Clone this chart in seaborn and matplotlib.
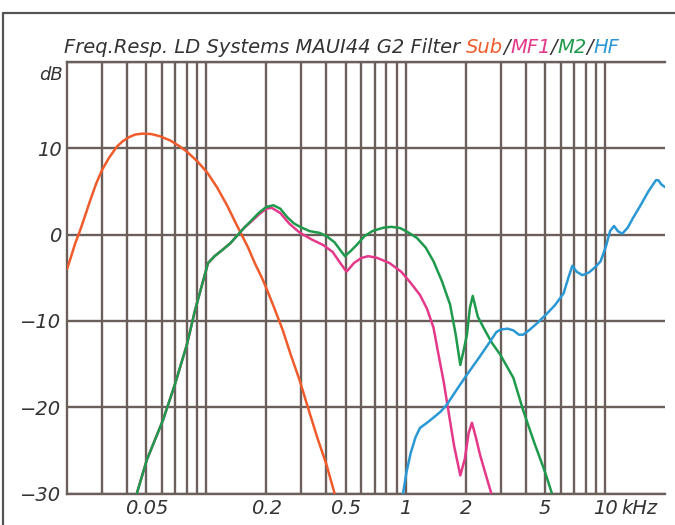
import matplotlib
matplotlib.use("Agg")
import matplotlib.pyplot as plt
from matplotlib.lines import Line2D
from matplotlib.ticker import NullFormatter
import seaborn as sns
import pandas as pd

# ---------------- data (frequency in kHz, level in dB) ----------------
sub_f = [0.020, 0.021, 0.022, 0.0232, 0.0245, 0.026, 0.028, 0.030, 0.0325, 0.0356,
         0.038, 0.041, 0.044, 0.048, 0.053, 0.0585, 0.066, 0.0738, 0.080, 0.090,
         0.101, 0.113, 0.127, 0.140, 0.151, 0.162, 0.175, 0.190, 0.200, 0.220,
         0.242, 0.265, 0.294, 0.323, 0.360, 0.400, 0.440]
sub_db = [-4.0, -2.5, -1.0, 0.4, 2.0, 3.8, 5.9, 7.5, 8.9, 10.2,
          10.8, 11.3, 11.6, 11.7, 11.65, 11.4, 10.9, 10.2, 9.6, 8.5,
          7.2, 5.5, 3.4, 1.4, -0.1, -1.5, -3.3, -5.0, -6.2, -8.6,
          -11.1, -13.9, -16.9, -20.0, -23.5, -26.6, -30.0]

m2_f = [0.0448, 0.0503, 0.0606, 0.0697, 0.080, 0.0877, 0.0952, 0.102, 0.110, 0.120,
        0.132, 0.143, 0.155, 0.166, 0.185, 0.200, 0.217, 0.235, 0.255, 0.275,
        0.295, 0.33, 0.37, 0.402, 0.44, 0.47, 0.496, 0.53, 0.568, 0.62,
        0.68, 0.772, 0.85, 0.94, 1.04, 1.14, 1.26, 1.38, 1.52, 1.67,
        1.78, 1.88, 1.95, 2.03, 2.10, 2.17, 2.30, 2.46, 2.70, 2.98,
        3.47, 3.89, 4.40, 5.00, 5.40]
m2_db = [-30.0, -26.1, -21.5, -17.3, -12.7, -8.8, -5.8, -3.3, -2.5, -1.8,
         -1.0, -0.1, 0.8, 1.5, 2.6, 3.2, 3.4, 3.0, 2.0, 1.3,
         0.9, 0.4, 0.2, -0.2, -0.9, -1.8, -2.5, -1.9, -1.2, -0.2,
         0.4, 0.8, 0.9, 0.75, 0.2, -0.4, -1.5, -3.1, -5.4, -8.1,
         -11.5, -15.1, -13.5, -11.6, -8.5, -7.1, -9.5, -10.8, -12.5, -13.9,
         -16.6, -20.4, -24.0, -27.5, -29.9]

mf1_f = [0.0448, 0.0503, 0.0606, 0.0697, 0.080, 0.0877, 0.0952, 0.102, 0.110, 0.120,
         0.132, 0.143, 0.155, 0.166, 0.185, 0.200, 0.213, 0.235, 0.26, 0.295,
         0.34, 0.385, 0.43, 0.47, 0.505, 0.55, 0.60, 0.65, 0.72, 0.83,
         0.95, 1.06, 1.18, 1.28, 1.38, 1.45, 1.55, 1.63, 1.75, 1.88,
         1.98, 2.07, 2.15, 2.25, 2.36, 2.50, 2.69]
mf1_db = [-30.0, -26.1, -21.5, -17.3, -12.7, -8.8, -5.8, -3.3, -2.5, -1.8,
          -1.0, -0.1, 0.8, 1.4, 2.4, 3.0, 3.1, 2.5, 1.3, 0.2,
          -0.6, -1.2, -2.0, -3.3, -4.3, -3.3, -2.7, -2.5, -2.7, -3.3,
          -4.3, -5.6, -7.0, -8.6, -10.8, -13.5, -17.0, -20.1, -24.5, -27.9,
          -26.0, -23.0, -21.8, -23.5, -25.5, -27.5, -30.0]

hf_f = [0.97, 1.01, 1.06, 1.12, 1.18, 1.28, 1.38, 1.50, 1.61, 1.80,
        2.02, 2.36, 2.65, 2.85, 3.00, 3.25, 3.47, 3.70, 3.89, 4.20,
        4.60, 5.09, 5.60, 6.20, 6.55, 6.86, 7.20, 7.70, 8.30, 9.00,
        9.50, 10.1, 10.6, 11.1, 11.6, 12.2, 13.0, 13.8, 15.0, 16.5,
        18.0, 18.5, 19.2, 20.0]
hf_db = [-30.0, -27.5, -25.3, -23.5, -22.4, -21.8, -21.2, -20.5, -19.7, -18.0,
         -16.3, -14.1, -12.4, -11.3, -11.0, -10.9, -11.1, -11.6, -11.6, -11.0,
         -10.2, -9.2, -8.2, -6.8, -5.0, -3.6, -4.3, -4.7, -4.4, -3.7,
         -3.1, -1.4, 0.4, 1.0, 0.4, 0.1, 0.8, 1.9, 3.3, 5.0,
         6.3, 6.3, 5.8, 5.5]

x_ticks = [0.05, 0.2, 0.5, 1, 2, 5, 10]
x_tick_labels = ["0.05", "0.2", "0.5", "1", "2", "5", "10"]
x_grid = [0.03, 0.04, 0.05, 0.06, 0.07, 0.08, 0.09, 0.1,
          0.2, 0.3, 0.4, 0.5, 0.6, 0.7, 0.8, 0.9, 1.0,
          2, 3, 4, 5, 6, 7, 8, 9, 10]
y_ticks = [-30, -20, -10, 0, 10, 20]
y_tick_labels = ["\u221230", "\u221220", "\u221210", "0", "10", ""]

series = [("Sub", sub_f, sub_db, "#ef5b2b"),
          ("MF1", mf1_f, mf1_db, "#e4398a"),
          ("M2", m2_f, m2_db, "#1f9a4c"),
          ("HF", hf_f, hf_db, "#2b98d6")]

# ---------------- style ----------------
sns.set_theme(style="white")
plt.rcParams["font.family"] = ["DejaVu Sans"]

grid_col = "#6b5f5c"
text_col = "#333333"

fig = plt.figure(figsize=(6.75, 5.25), dpi=100)
ax = fig.add_axes([67 / 675, 1 - 493.5 / 525, (665 - 67) / 675, (493.5 - 62) / 525])

for name, f, db, col in series:
    df = pd.DataFrame({"f": f, "dB": db})
    sns.lineplot(data=df, x="f", y="dB", ax=ax, color=col, lw=1.8,
                 estimator=None, sort=False, zorder=3,
                 solid_joinstyle="round", solid_capstyle="round")

ax.set_xscale("log")
ax.set_xlim(0.02, 20)
ax.set_ylim(-30, 20)

ax.xaxis.remove_overlapping_locs = False
ax.set_xticks(x_ticks)
ax.set_xticklabels(x_tick_labels)
ax.set_xticks(x_grid, minor=True)
ax.xaxis.set_minor_formatter(NullFormatter())
ax.set_yticks(y_ticks)
ax.set_yticklabels(y_tick_labels)
ax.tick_params(axis="both", which="both", length=0)
ax.tick_params(axis="x", which="major", pad=4, labelsize=14, labelcolor=text_col)
ax.tick_params(axis="y", which="major", pad=4, labelsize=14, labelcolor=text_col)
for lab in ax.get_xticklabels() + ax.get_yticklabels():
    lab.set_fontstyle("italic")

ax.grid(False)
ax.grid(True, which="minor", axis="x", color=grid_col, lw=1.7)
ax.grid(True, which="major", axis="y", color=grid_col, lw=1.7)
ax.set_axisbelow(True)
ax.set_xlabel("")
ax.set_ylabel("")

for side in ["left", "bottom", "top"]:
    ax.spines[side].set_visible(True)
    ax.spines[side].set_color(grid_col)
    ax.spines[side].set_linewidth(1.7)
ax.spines["right"].set_visible(False)

# unit labels
ax.annotate("dB", xy=(0, 1), xycoords="axes fraction", xytext=(-3, -3),
            textcoords="offset points", ha="right", va="top",
            fontsize=13, fontstyle="italic", color=text_col)
ax.annotate("kHz", xy=(10, 0), xycoords=("data", "axes fraction"), xytext=(12, -4),
            textcoords="offset points", ha="left", va="top",
            fontsize=14, fontstyle="italic", color=text_col)

# title built from coloured pieces
title_size = 14
pieces = [("Freq.Resp. LD Systems MAUI44 G2 Filter ", text_col),
          ("Sub", "#ef5b2b"), ("/", text_col), ("MF1", "#e4398a"), ("/", text_col),
          ("M2", "#1f9a4c"), ("/", text_col), ("HF", "#2b98d6")]
prev = fig.text(64 / 675, 1 - 53 / 525, pieces[0][0], color=pieces[0][1],
                fontsize=title_size, fontstyle="italic", ha="left", va="baseline")
for txt, col in pieces[1:]:
    prev = ax.annotate(txt, xy=(1, 0), xycoords=prev, xytext=(0, 0),
                       textcoords="offset points", ha="left", va="bottom",
                       fontsize=title_size, fontstyle="italic", color=col,
                       annotation_clip=False)

# outer frame
fig.add_artist(Line2D([3 / 675, 1], [1 - 13 / 525, 1 - 13 / 525],
                      transform=fig.transFigure, color="#555555", lw=1.6))
fig.add_artist(Line2D([3 / 675, 3 / 675], [0, 1 - 13 / 525],
                      transform=fig.transFigure, color="#555555", lw=1.6))

fig.savefig("out.png", dpi=100, facecolor="white")
